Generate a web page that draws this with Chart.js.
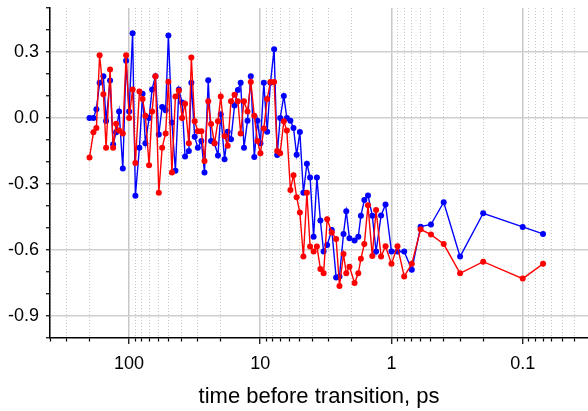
<!DOCTYPE html>
<html>
<head>
<meta charset="utf-8">
<script src="https://cdn.jsdelivr.net/npm/chart.js@4"></script>
<style>
  html, body { margin: 0; padding: 0; background: #ffffff; }
  #wrap { width: 588px; height: 411px; }
</style>
</head>
<body>
<div id="wrap"><canvas id="c" width="588" height="411"></canvas></div>
<script>
// time before transition (ps)
const times = [200, 186.7, 177.2, 167.5, 156.7, 149.5, 139.4, 132.2, 125.4, 119.0,
  111.5, 105.2, 99.8, 93.9, 89.4, 83.3, 78.8, 75.0, 70.3, 66.7,
  62.9, 59.3, 55.9, 52.6, 50.1, 47.1, 44.3, 41.7, 39.4, 37.4,
  35.0, 33.5, 31.6, 29.9, 28.1, 26.6, 24.9, 23.7, 22.3, 21.0,
  20.0, 18.7, 17.7, 16.7, 15.7, 14.8, 14.1, 13.3, 12.5, 11.8,
  11.1, 10.5, 9.97, 9.39, 8.86, 8.36, 7.84, 7.43, 7.05, 6.61,
  6.27, 5.89, 5.58, 5.28, 4.99, 4.69, 4.41, 4.17, 3.92, 3.70,
  3.48, 3.29, 3.09, 2.85, 2.64, 2.49, 2.32, 2.21, 2.09, 1.91,
  1.79, 1.71, 1.61, 1.51, 1.40, 1.31, 1.20, 1.11, 1.0, 0.9,
  0.8, 0.7, 0.6, 0.5, 0.4, 0.3, 0.2, 0.1, 0.07];

const blueValues = [0.0, 0.0, 0.04, 0.16, 0.19, -0.014, 0.17, -0.12, -0.065, 0.03,
  -0.23, 0.26, 0.03, 0.385, -0.353, -0.135, 0.11, -0.115, 0.0, 0.13,
  0.19, -0.075, 0.05, 0.035, 0.375, -0.02, -0.24, 0.13, 0.07, -0.175,
  -0.15, 0.16, -0.085, -0.135, -0.105, -0.248, 0.172, -0.105, -0.115, -0.17,
  0.017, -0.188, -0.063, -0.097, 0.057, 0.127, 0.16, -0.135, -0.012, 0.19,
  -0.177, -0.012, -0.115, 0.16, -0.063, 0.16, 0.313, -0.168, 0.0, 0.1,
  0.0, -0.012, -0.045, -0.167, -0.064, -0.34, -0.208, -0.27, -0.54, -0.27,
  -0.466, -0.607, -0.577, -0.509, -0.725, -0.72, -0.527, -0.424, -0.547, -0.557,
  -0.54, -0.444, -0.373, -0.352, -0.444, -0.607, -0.443, -0.393, -0.607, -0.607,
  -0.607, -0.69, -0.494, -0.484, -0.383, -0.63, -0.433, -0.495, -0.527];

const redValues = [-0.18, -0.065, -0.045, 0.285, 0.108, -0.135, 0.22, -0.135, -0.026, -0.057,
  -0.07, 0.285, 0.0, 0.13, -0.205, 0.12, 0.086, 0.01, -0.215, 0.03,
  0.19, -0.34, -0.135, -0.07, 0.165, -0.248, 0.098, 0.125, 0.0, 0.065,
  -0.115, 0.275, -0.015, -0.06, -0.06, -0.195, 0.076, -0.027, -0.115, -0.015,
  0.098, -0.082, -0.126, 0.076, 0.106, 0.076, -0.07, 0.076, 0.029, 0.164,
  0.01, -0.105, -0.16, -0.048, 0.086, 0.164, 0.164, -0.15, -0.16, -0.015,
  -0.057, -0.327, -0.26, -0.36, -0.43, -0.63, -0.34, -0.584, -0.607, -0.584,
  -0.686, -0.706, -0.46, -0.52, -0.55, -0.764, -0.618, -0.706, -0.676, -0.75,
  -0.706, -0.64, -0.573, -0.397, -0.627, -0.418, -0.63, -0.583, -0.663, -0.583,
  -0.72, -0.663, -0.506, -0.53, -0.573, -0.706, -0.653, -0.73, -0.663];

const xDecades = [0.1, 1, 10, 100];
const xTickLabels = ['0.1', '1', '10', '100'];
const yLabelValues = [-0.9, -0.6, -0.3, 0.0, 0.3];
const yTickLabels = ['-0.9', '-0.6', '-0.3', '0.0', '0.3'];
const xTitle = 'time before transition, ps';

const X_MIN = 0.0318, X_MAX = 400;
const Y_MIN = -1.0, Y_MAX = 0.5;

function isDecade(v) {
  return xDecades.some(d => Math.abs(v / d - 1) < 1e-6);
}
function yLabelFor(v) {
  for (let i = 0; i < yLabelValues.length; i++) {
    if (Math.abs(v - yLabelValues[i]) < 1e-6) return yTickLabels[i];
  }
  return null;
}

const blueData = times.map((t, i) => ({ x: t, y: blueValues[i] }));
const redData = times.map((t, i) => ({ x: t, y: redValues[i] }));

const FONT = "'Liberation Sans', Arial, sans-serif";

new Chart(document.getElementById('c'), {
  type: 'line',
  data: {
    datasets: [
      {
        label: 'red',
        data: redData,
        borderColor: '#ff0000',
        backgroundColor: '#ff0000',
        borderWidth: 1.4,
        pointRadius: 3,
        pointBorderWidth: 0,
        pointBackgroundColor: '#ff0000',
        tension: 0,
        order: 0
      },
      {
        label: 'blue',
        data: blueData,
        borderColor: '#0000ff',
        backgroundColor: '#0000ff',
        borderWidth: 1.4,
        pointRadius: 3,
        pointBorderWidth: 0,
        pointBackgroundColor: '#0000ff',
        tension: 0,
        order: 1
      }
    ]
  },
  options: {
    responsive: false,
    animation: false,
    events: [],
    layout: { autoPadding: false, padding: { top: 8, right: 0, left: 0, bottom: 0 } },
    plugins: {
      legend: { display: false },
      tooltip: { enabled: false },
      title: { display: false }
    },
    scales: {
      x: {
        type: 'logarithmic',
        reverse: true,
        min: X_MIN,
        max: X_MAX,
        afterFit: (s) => { s.height = 73; s.paddingLeft = 0; s.paddingRight = 0; },
        afterBuildTicks: (s) => {
          const ticks = [];
          for (let e = -2; e <= 2; e++) {
            for (let m = 1; m <= 9; m++) {
              const v = m * Math.pow(10, e);
              if (v >= X_MIN && v <= X_MAX) ticks.push({ value: v });
            }
          }
          s.ticks = ticks;
        },
        grid: {
          color: (ctx) => ctx.tick ? (isDecade(ctx.tick.value) ? '#c8c8c8' : '#c8c8c8') : '#c8c8c8',
          lineWidth: (ctx) => ctx.tick && isDecade(ctx.tick.value) ? 1.5 : 1,
          tickColor: '#000000',
          tickLength: 6,
          tickWidth: 1.2,
          tickBorderDash: (ctx) => (ctx.tick && !isDecade(ctx.tick.value)) ? [3, 20] : []
        },
        border: {
          display: true,
          color: '#000000',
          width: 1.5,
          dash: (ctx) => (ctx.tick && !isDecade(ctx.tick.value)) ? [1, 2] : []
        },
        ticks: {
          autoSkip: false,
          maxRotation: 0,
          minRotation: 0,
          padding: 9,
          color: '#000000',
          font: { family: FONT, size: 18 },
          callback: (v) => {
            const i = xDecades.findIndex(d => Math.abs(v / d - 1) < 1e-6);
            return i >= 0 ? xTickLabels[i] : '';
          }
        },
        title: {
          display: true,
          text: xTitle,
          color: '#000000',
          font: { family: FONT, size: 22 },
          padding: { top: 0, bottom: 1 }
        }
      },
      y: {
        type: 'linear',
        min: Y_MIN,
        max: Y_MAX,
        afterFit: (s) => { s.width = 50; s.paddingTop = 0; s.paddingBottom = 0; },
        ticks: {
          stepSize: 0.1,
          autoSkip: false,
          padding: 7,
          color: '#000000',
          font: { family: FONT, size: 18 },
          callback: (v) => { const l = yLabelFor(v); return l === null ? '' : l; }
        },
        grid: {
          color: (ctx) => (ctx.tick && yLabelFor(ctx.tick.value) !== null) ? '#cfcfcf' : 'rgba(0,0,0,0)',
          lineWidth: 1.5,
          tickColor: '#000000',
          tickLength: 4,
          tickWidth: 1.2
        },
        border: { display: true, color: '#000000', width: 1.5 }
      }
    }
  }
});
</script>
</body>
</html>
